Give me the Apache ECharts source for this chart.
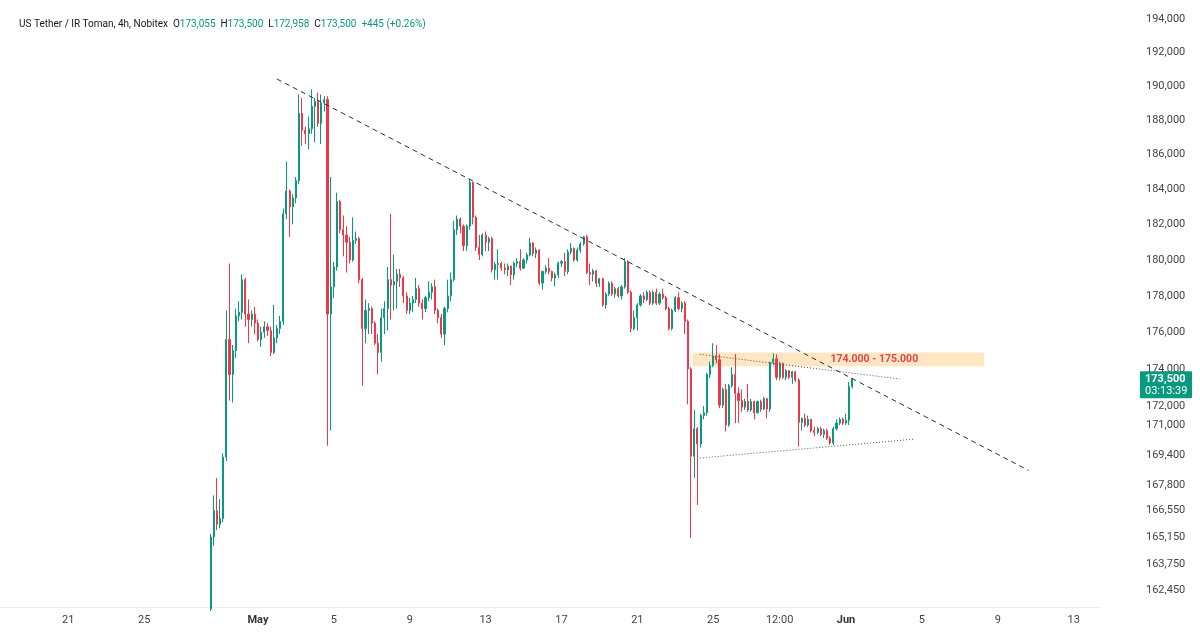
<!DOCTYPE html>
<html>
<head>
<meta charset="utf-8">
<title>USDT / IRT 4h</title>
<script src="https://cdn.jsdelivr.net/npm/echarts@6/dist/echarts.min.js"></script>
<style>
  html, body { margin: 0; padding: 0; background: #fff; }
  #chart { width: 1200px; height: 639px; }
</style>
</head>
<body>
<div id="chart"></div>
<script>
// 4h bars, first bar open time (UTC)
const firstBar = '2026-04-28T12:00:00Z';
const barHours = 4;

// one row per 4h bar: [open, high, low, close]
const candles = [
  [161500, 165300, 161400, 165150], [165150, 167300, 164700, 166500], [166500, 168200, 165500, 165800],
  [165800, 167100, 165600, 166100], [166100, 169500, 165900, 169300], [169300, 177200, 169100, 175600],
  [175600, 179800, 172300, 173700], [173700, 175300, 172200, 175000], [175000, 177300, 174600, 176900],
  [176900, 177700, 176600, 177100], [177100, 179200, 176700, 178900], [178900, 179000, 176300, 177000],
  [177000, 177800, 175400, 176700], [176700, 177200, 176300, 177000], [177000, 177400, 175900, 176500],
  [176500, 176700, 175500, 175600], [175600, 176300, 175200, 176000], [176000, 176600, 175700, 176300],
  [176300, 176500, 175800, 176100], [176100, 176300, 174700, 174900], [174900, 177500, 174800, 175700],
  [175700, 176400, 175400, 176200], [176200, 176900, 175900, 176600], [176600, 182900, 176400, 182600],
  [182600, 185600, 182300, 183900], [183900, 184000, 181300, 183000], [183000, 183700, 182000, 183500],
  [183500, 184700, 183200, 184500], [184500, 189500, 184300, 188400], [188400, 189300, 186500, 187400],
  [187400, 187600, 186600, 187200], [187200, 188200, 186300, 187500], [187500, 189800, 187200, 188800],
  [188800, 189300, 186700, 189100], [189100, 189600, 187600, 187800], [187800, 189500, 186600, 189000],
  [189000, 189400, 188500, 189200], [189200, 189400, 169900, 177000], [177000, 184700, 170700, 178500],
  [178500, 179900, 177900, 179600], [179600, 183800, 179400, 183300], [183300, 183400, 181500, 181700],
  [181700, 182500, 180200, 181400], [181400, 181900, 179300, 181000], [181000, 181300, 179800, 180000],
  [180000, 182400, 179900, 181100], [181100, 181600, 180900, 181200], [181200, 181300, 178700, 178900],
  [178900, 179000, 173100, 176200], [176200, 177800, 175400, 177200], [177200, 177600, 175900, 177300],
  [177300, 177400, 175900, 176500], [176500, 176600, 175300, 175400], [175400, 175900, 173700, 174900],
  [174900, 177300, 174400, 176800], [176800, 177700, 175900, 177300], [177300, 179600, 176100, 178900],
  [178900, 182600, 176700, 178600], [178600, 180300, 177200, 178800], [178800, 179500, 177300, 179200],
  [179200, 179500, 178500, 179000], [179000, 179100, 177600, 178000], [178000, 178200, 177000, 177200],
  [177200, 177900, 177000, 177600], [177600, 178000, 177100, 177800], [177800, 179000, 177600, 178400],
  [178400, 178600, 177400, 177600], [177600, 177800, 176700, 177300], [177300, 178000, 177100, 177900],
  [177900, 178800, 177700, 178200], [178200, 178700, 177800, 178500], [178500, 178900, 177000, 177200],
  [177200, 177300, 176500, 176800], [176800, 177000, 175700, 175900], [175900, 177400, 175300, 177300],
  [177300, 178900, 177100, 178000], [178000, 179300, 177700, 178900], [178900, 182200, 178800, 181700],
  [181700, 182500, 181400, 182300], [182300, 182400, 181500, 181900], [181900, 182000, 180500, 180800],
  [180800, 182000, 180500, 181900], [181900, 184600, 181700, 184400], [184400, 184400, 182000, 182400],
  [182400, 182500, 180500, 180700], [180700, 181400, 180000, 180300], [180300, 181500, 180200, 181400],
  [181400, 181600, 180500, 181000], [181000, 181300, 180500, 181200], [181200, 181300, 179300, 179450],
  [179450, 179900, 178900, 179750], [179750, 180600, 178900, 179800], [179800, 179900, 179400, 179550],
  [179550, 179800, 179200, 179450], [179450, 179800, 179100, 179650], [179650, 179700, 178600, 179170],
  [179170, 179900, 178900, 179820], [179820, 180100, 179600, 179910], [179910, 180600, 179400, 179540],
  [179540, 180100, 179500, 180000], [180000, 180400, 179800, 180280], [180280, 181250, 180200, 180950],
  [180950, 181000, 180200, 180370], [180370, 180700, 180100, 180560], [180560, 180600, 178600, 178710],
  [178710, 179400, 178350, 179360], [179360, 179700, 179200, 179540], [179540, 180100, 179200, 179360],
  [179360, 179400, 178800, 178990], [178990, 179300, 178530, 179170], [179170, 179900, 179000, 179820],
  [179820, 180000, 179600, 179900], [179900, 180400, 179100, 179350], [179350, 180600, 179200, 180450],
  [180450, 180950, 180300, 180650], [180650, 180700, 179900, 180000], [180000, 180700, 179900, 180550],
  [180550, 181000, 180400, 180900], [180900, 181350, 180800, 181300], [181300, 181400, 179200, 179300],
  [179300, 179800, 178600, 179200], [179200, 179500, 178800, 179400], [179400, 179450, 178500, 178700],
  [178700, 179000, 178500, 178950], [178950, 179000, 177400, 177500], [177500, 178200, 177300, 178100],
  [178100, 178800, 178000, 178700], [178700, 178800, 178000, 178100], [178100, 178500, 177900, 178400],
  [178400, 178500, 177900, 178000], [178000, 178600, 177800, 178500], [178500, 180100, 178400, 179900],
  [179900, 180000, 178100, 178200], [178200, 178300, 176000, 176200], [176200, 177200, 176100, 176800],
  [176800, 177600, 176100, 177500], [177500, 178100, 177400, 178000], [178000, 178200, 177600, 177800],
  [177800, 178300, 177700, 178200], [178200, 178300, 177500, 177600], [177600, 178300, 177500, 178200],
  [178200, 178400, 177500, 177600], [177600, 178200, 177500, 178100], [178100, 178400, 177800, 177900],
  [177900, 178000, 177200, 177300], [177300, 177400, 176100, 176200], [176200, 177300, 176100, 177200],
  [177200, 178000, 177100, 177900], [177900, 178200, 177200, 177300], [177300, 177700, 177100, 177600],
  [177600, 177700, 175900, 176600], [176600, 176700, 172100, 174000], [174000, 174100, 165100, 169350],
  [169350, 171800, 168200, 170800], [170800, 170900, 166800, 170000], [170000, 171600, 169800, 171500],
  [171500, 172000, 171300, 171650], [171650, 173800, 171500, 173700], [173700, 174400, 173500, 174200],
  [174200, 175400, 174100, 174700], [174700, 175300, 174300, 174500], [174500, 174800, 171900, 172050],
  [172050, 173000, 171900, 172900], [172900, 173200, 170650, 171000], [171000, 173200, 170900, 173100],
  [173100, 174100, 173000, 173700], [173700, 174800, 171100, 172700], [172700, 173000, 171100, 172300],
  [172300, 172900, 171700, 171950], [171950, 172400, 171800, 172250], [172250, 173200, 171700, 171800],
  [171800, 172400, 171700, 172250], [172250, 172300, 171300, 171650], [171650, 172300, 171600, 172250],
  [172250, 172350, 171700, 171850], [171850, 172500, 171800, 172400], [172400, 172450, 171350, 171850],
  [171850, 174400, 171700, 174350], [174350, 174850, 174200, 174550], [174550, 174800, 173400, 173550],
  [173550, 174400, 173400, 174300], [174300, 174350, 173450, 173550], [173550, 174000, 173400, 173900],
  [173900, 173950, 173450, 173550], [173550, 173900, 173200, 173850], [173850, 173900, 173300, 173400],
  [173400, 173500, 169850, 171150], [171150, 171400, 170700, 171350], [171350, 171600, 170900, 171000],
  [171000, 171500, 170900, 171300], [171300, 171300, 170600, 170700], [170700, 170900, 170400, 170600],
  [170600, 170900, 170500, 170800], [170800, 170900, 170400, 170500], [170500, 170800, 170300, 170700],
  [170700, 170800, 170200, 170300], [170300, 170400, 169950, 170050], [170050, 170900, 169950, 170800],
  [170800, 171300, 170700, 171100], [171100, 171400, 171000, 171300], [171300, 171400, 171000, 171100],
  [171100, 171600, 171000, 171250], [171250, 173300, 171000, 173055], [173055, 173500, 172958, 173500]
];

const priceTicks = [194000, 192000, 190000, 188000, 186000, 184000, 182000, 180000, 178000, 176000,
  174000, 172000, 171000, 169400, 167800, 166550, 165150, 163750, 162450];
const dateTicks = ['2026-04-21', '2026-04-25', '2026-05-01', '2026-05-05', '2026-05-09', '2026-05-13',
  '2026-05-17', '2026-05-21', '2026-05-25', '2026-05-28T12:00:00Z', '2026-06-01', '2026-06-05',
  '2026-06-09', '2026-06-13'];
const monthNames = ['Jan', 'Feb', 'Mar', 'Apr', 'May', 'Jun', 'Jul', 'Aug', 'Sep', 'Oct', 'Nov', 'Dec'];

// drawings on the chart: [time, price] end points
const trendLine = [['2026-05-02T00:00:00Z', 190415], ['2026-06-10T15:00:00Z', 168600]];
const upperLine = [['2026-05-24T07:00:00Z', 174800], ['2026-06-03T20:00:00Z', 173460]];
const lowerLine = [['2026-05-24T07:00:00Z', 169250], ['2026-06-04T15:00:00Z', 170250]];
const zone = [['2026-05-23T22:00:00Z', 174900], ['2026-06-08T06:30:00Z', 174150]];
const zoneText = '174.000 - 175.000';

const lastPrice = 173500;
const countdown = '03:13:39';

const HOUR = 3600 * 1000;
const DAY = 24 * HOUR;
const may1 = Date.parse('2026-05-01T00:00:00Z');
const t0 = Date.parse(firstBar);
const seriesData = candles.map((c, i) => [t0 + i * barHours * HOUR, c[0], c[3], c[2], c[1]]);
const pt = (p) => [Date.parse(p[0]), p[1]];

const fontFamily = 'Roboto, "Noto Sans", Arial, sans-serif';
const up = '#089981';
const down = '#f23645';

var myChart = echarts.init(document.getElementById('chart'));

const headStyle = { fontSize: 10, fontWeight: 'normal', fontFamily: fontFamily };

const option = {
  animation: false,
  backgroundColor: '#ffffff',
  textStyle: { fontFamily: fontFamily },
  title: {
    left: 14,
    top: 14,
    text: '{n|US Tether / IR Toman, 4h, Nobitex}  {k|O}{v|173,055}  {k|H}{v|173,500}  {k|L}{v|172,958}  {k|C}{v|173,500}  {v|+445 (+0.26%)}',
    textStyle: {
      fontWeight: 'normal',
      fontSize: 10,
      rich: {
        n: Object.assign({ color: '#131722' }, headStyle),
        k: Object.assign({ color: '#131722' }, headStyle),
        v: Object.assign({ color: up }, headStyle)
      }
    }
  },
  grid: {
    left: 0,
    right: 100,
    top: 0,
    bottom: 32
  },
  // time in ms on a plain value axis, so the date ticks can be placed exactly
  xAxis: {
    type: 'value',
    min: may1 - 13.6 * DAY,
    max: may1 + 44.39 * DAY,
    axisLine: { show: true, lineStyle: { color: '#eceef2' } },
    axisTick: { show: false },
    splitLine: { show: false },
    axisLabel: {
      customValues: dateTicks.map((d) => Date.parse(d)),
      color: '#444',
      fontSize: 11,
      margin: 8,
      hideOverlap: false,
      formatter: function (v) {
        const d = new Date(v);
        if (d.getUTCHours() === 12) return '12:00';
        if (d.getUTCDate() === 1) return '{m|' + monthNames[d.getUTCMonth()] + '}';
        return String(d.getUTCDate());
      },
      rich: {
        m: { fontWeight: 'bold', color: '#333', fontSize: 11, fontFamily: fontFamily }
      }
    }
  },
  yAxis: {
    type: 'log',
    logBase: 10,
    position: 'right',
    min: 161592,
    max: 195149,
    axisLine: { show: false },
    axisTick: { show: false },
    splitLine: { show: false },
    axisLabel: {
      customValues: priceTicks,
      color: '#444',
      fontSize: 11,
      margin: 46,
      formatter: function (v) {
        return Math.round(v).toLocaleString('en-US');
      }
    }
  },
  series: [
    {
      type: 'candlestick',
      data: seriesData,
      encode: { x: 0, y: [1, 2, 3, 4] },
      barWidth: 1.6,
      itemStyle: {
        color: up,
        color0: down,
        borderColor: up,
        borderColor0: down,
        borderWidth: 1
      },
      markArea: {
        silent: true,
        itemStyle: { color: 'rgba(252,196,110,0.42)' },
        label: {
          show: true,
          position: 'inside',
          offset: [36, 0],
          color: '#e0474c',
          fontWeight: 'bold',
          fontSize: 10.5,
          formatter: zoneText
        },
        data: [[{ coord: pt(zone[0]) }, { coord: pt(zone[1]) }]]
      },
      markLine: {
        silent: true,
        symbol: ['none', 'none'],
        label: { show: false },
        data: [
          [
            { coord: pt(trendLine[0]), lineStyle: { color: '#2a2e39', width: 1, type: [5, 4] } },
            { coord: pt(trendLine[1]) }
          ],
          [
            { coord: pt(upperLine[0]), lineStyle: { color: '#555', width: 1, type: [1, 2] } },
            { coord: pt(upperLine[1]) }
          ],
          [
            { coord: pt(lowerLine[0]), lineStyle: { color: '#555', width: 1, type: [1, 2] } },
            { coord: pt(lowerLine[1]) }
          ]
        ]
      }
    }
  ]
};

myChart.setOption(option);

// last price tag on the price scale
const tagY = myChart.convertToPixel({ yAxisIndex: 0 }, lastPrice);
myChart.setOption({
  graphic: [
    {
      type: 'rect',
      left: 1140,
      top: tagY - 7,
      shape: { width: 52, height: 27, r: 1 },
      style: { fill: up },
      z: 100
    },
    {
      type: 'text',
      left: 1145,
      top: tagY - 5,
      style: { text: lastPrice.toLocaleString('en-US'), fill: '#fff', font: 'bold 11px ' + fontFamily },
      z: 101
    },
    {
      type: 'text',
      left: 1145,
      top: tagY + 7,
      style: { text: countdown, fill: '#fff', font: '11px ' + fontFamily },
      z: 101
    }
  ]
});
</script>
</body>
</html>
